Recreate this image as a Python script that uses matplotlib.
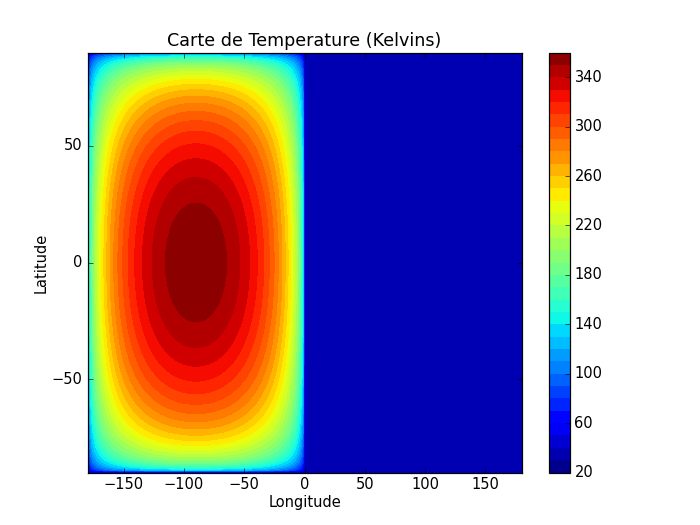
import numpy as np
import matplotlib
matplotlib.use('Agg')
import matplotlib.pyplot as plt

plt.style.use('classic')

# model parameters
T_substellar = 359.0   # K, hottest point (lon=-90, lat=0)
T_night = 35.0         # K, uniform night side
lon_substellar = -90.0

lon = np.linspace(-180, 180, 361)
lat = np.linspace(-90, 90, 181)
levels = np.arange(20, 361, 10)
cbar_ticks = np.arange(20, 361, 40)
x_ticks = [-150, -100, -50, 0, 50, 100, 150]
y_ticks = [-50, 0, 50]

LON, LAT = np.meshgrid(lon, lat)
cos_theta = np.cos(np.radians(LAT))*np.cos(np.radians(LON - lon_substellar))
cos_theta = np.clip(cos_theta, 0, None)
T = np.maximum(T_substellar*cos_theta**0.25, T_night)

fig = plt.figure(figsize=(8, 6), dpi=87.5)
ax = fig.add_subplot(111)
cs = ax.contourf(lon, lat, T, levels=levels, cmap='jet')
cb = fig.colorbar(cs, ax=ax, ticks=cbar_ticks)
ax.set_xlim(-180, 180)
ax.set_ylim(-90, 90)
ax.set_xticks(x_ticks)
ax.set_yticks(y_ticks)
ax.set_title('Carte de Temperature (Kelvins)')
ax.set_xlabel('Longitude', labelpad=2.5)
ax.set_ylabel('Latitude', labelpad=2.5)
fig.savefig('out.png', dpi=87.5, facecolor='white')
